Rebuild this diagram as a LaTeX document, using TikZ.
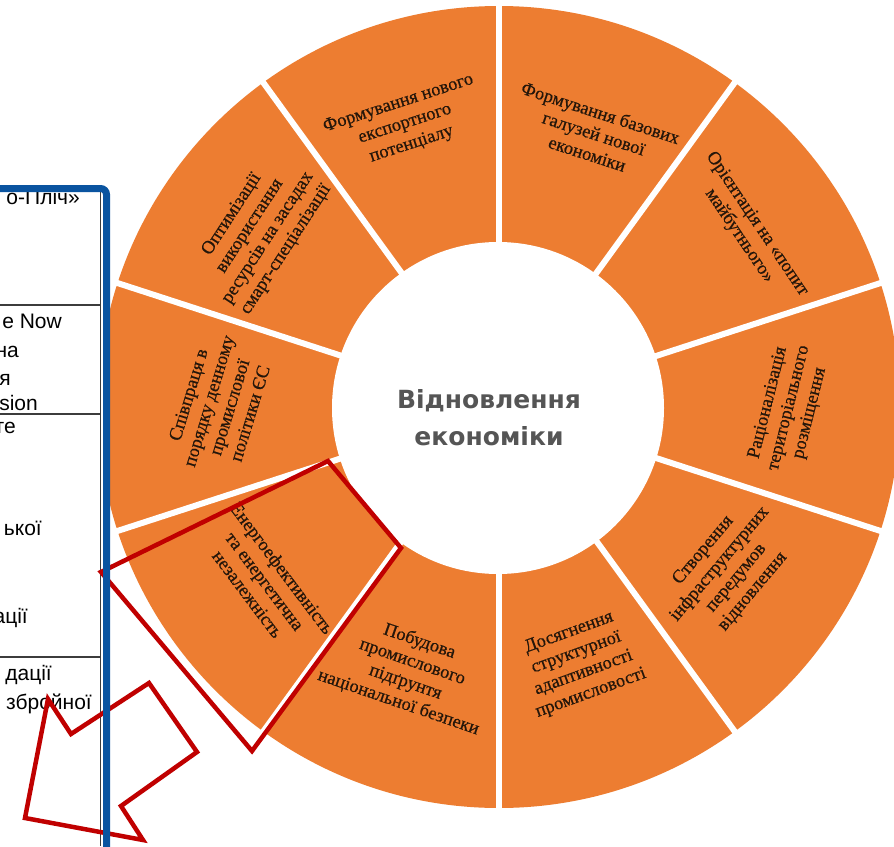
\documentclass[tikz,border=0pt]{standalone}
\usepackage{fontspec}
\newfontfamily\segfont{Liberation Serif}[FakeBold=0.6]
\newfontfamily\tabfont{Liberation Sans}
\newfontfamily\ctrfont{DejaVu Sans}
\definecolor{wheelorange}{RGB}{237,125,49}
\definecolor{segtext}{RGB}{36,22,10}
\definecolor{tblue}{RGB}{10,84,160}
\definecolor{markred}{RGB}{192,0,0}
\definecolor{ctrgray}{RGB}{85,85,85}
\definecolor{rulegray}{RGB}{60,60,60}
\begin{document}
\begin{tikzpicture}[x=1pt,y=-1pt,
 seglabel/.style={font=\segfont\fontsize{18.5}{21.5}\selectfont, text=segtext, align=center, inner sep=0pt},
 tabtext/.style={font=\tabfont\fontsize{21}{25}\selectfont, text=black, anchor=base east, inner sep=0pt},
 ctrtext/.style={font=\ctrfont\bfseries\fontsize{25}{30}\selectfont, text=ctrgray, anchor=base, inner sep=0pt},
 redmark/.style={draw=markred, line width=4.5pt, line join=miter},
 gapline/.style={draw=white, line width=6pt},
 rowrule/.style={draw=rulegray, line width=1.3pt},
 blueframe/.style={draw=tblue, line width=7pt, rounded corners=6pt}]
\useasboundingbox (0,0) rectangle (894,846);
\fill[white] (0,0) rectangle (894,846);
% wheel
\coordinate (oc) at (499,407);
\coordinate (ic) at (498,408);
\fill[wheelorange] (oc) circle (401pt);
\fill[white] (ic) circle (166pt);
\foreach \a in {18,54,...,342}
  \draw[gapline] ({499+150*cos(\a)},{407-150*sin(\a)}) -- ({499+412*cos(\a)},{407-412*sin(\a)});
% segment labels
\node[seglabel, rotate=18]  (s1)  at (405,124) {Формування нового\\експортного\\потенціалу};
\node[seglabel, rotate=-18] (s2)  at (594,133) {Формування базових\\галузей нової\\економіки};
\node[seglabel, rotate=-56] (s3)  at (748,230) {Орієнтація на «попит\\майбутнього»};
\node[seglabel, rotate=76]  (s4)  at (789,408) {Раціоналізація\\територіального\\розміщення};
\node[seglabel, rotate=50]  (s5)  at (728,571) {Створення\\інфраструктурних\\передумов\\відновлення};
\node[seglabel, rotate=20]  (s6)  at (580,663) {Досягнення\\структурної\\адаптивності\\промисловості};
\node[seglabel, rotate=-19] (s7)  at (409,672) {Побудова\\промислового\\підґрунтя\\національної безпеки};
\node[seglabel, rotate=-53] (s8)  at (265,581) {Енергоефективність\\та енергетична\\незалежність};
\node[seglabel, rotate=73]  (s9)  at (219,404) {Співпраця в\\порядку денному\\промислової\\політики ЄС};
\node[seglabel, rotate=57]  (s10) at (259,232) {Оптимізації\\використання\\ресурсів на засадах\\смарт-спеціалізації};
% centre
\node[ctrtext] (c1) at (489,408) {Відновлення};
\node[ctrtext] (c2) at (489,445) {економіки};
% table fragment
\fill[white] (0,188) rectangle (106,846);
\draw[rowrule] (100.5,190) -- (100.5,846);
\draw[rowrule] (0,305) -- (100.5,305);
\draw[rowrule] (0,414) -- (100.5,414);
\draw[rowrule] (0,657) -- (100.5,657);
\node[tabtext] (t1)  at (80,204) {о-Пліч»};
\node[tabtext] (t2)  at (62,328) {e Now};
\node[tabtext] (t3)  at (19,357) {на};
\node[tabtext] (t4)  at (11,385) {я};
\node[tabtext] (t5)  at (38,410) {sion};
\node[tabtext] (t6)  at (16,433) {те};
\node[tabtext] (t7)  at (42,535) {ької};
\node[tabtext] (t8)  at (28,623) {ації};
\node[tabtext] (t9)  at (52,680) {дації};
\node[tabtext] (t10) at (92,709) {збройної};
% red marks
\draw[redmark] (328,461) -- (401,548) -- (252,751) -- (101,572) -- cycle;
\draw[redmark] (48,699) -- (71,734) -- (149,683) -- (197,752) -- (121,806) -- (143,840) -- (25,818) -- cycle;
% blue frame
\draw[blueframe] (-10,188.5) -- (106.5,188.5) -- (106.5,870);
\end{tikzpicture}
\end{document}
